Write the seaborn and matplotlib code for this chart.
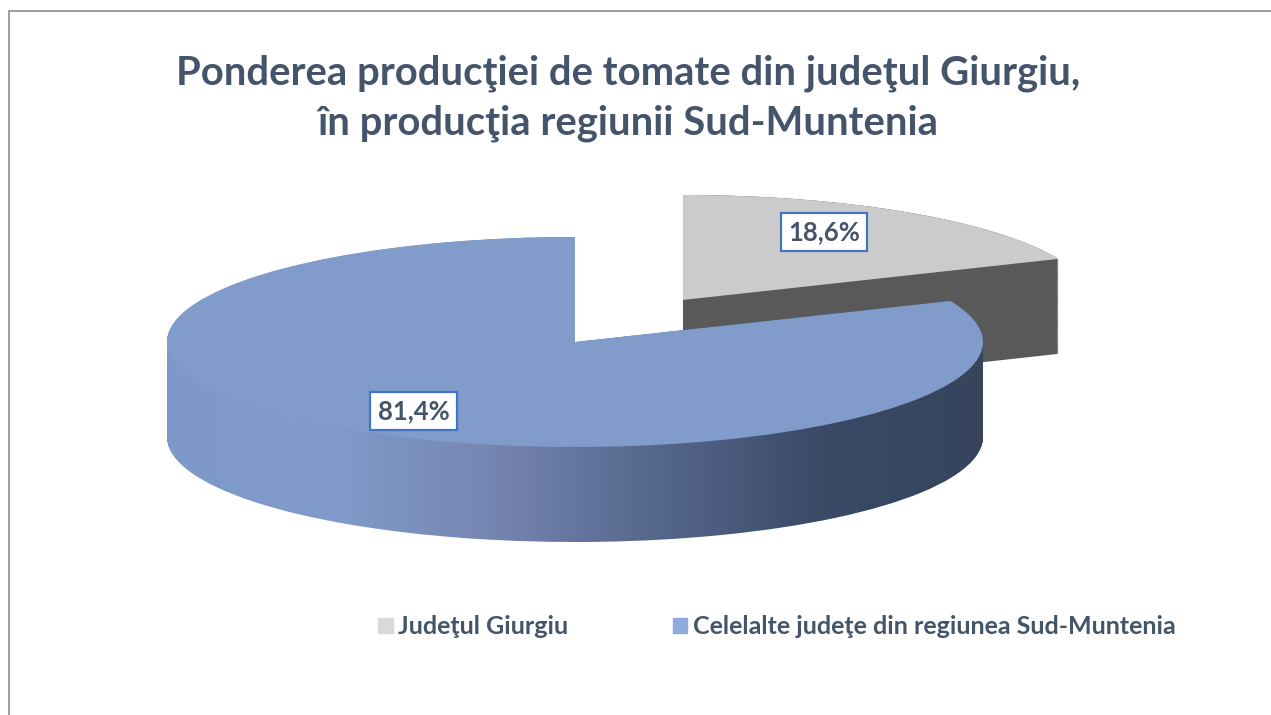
import numpy as np
import matplotlib.pyplot as plt
import seaborn as sns
from matplotlib.lines import Line2D
from matplotlib.patches import Patch, PathPatch
from matplotlib.path import Path

# values
categories = ['Judeţul Giurgiu', 'Celelalte judeţe din regiunea Sud-Muntenia']
shares = [18.6, 81.4]

title_text = 'Ponderea producţiei de tomate din judeţul Giurgiu,\nîn producţia regiunii Sud-Muntenia'

W, H = 1271, 715
CX, CY = 575, 342      # pie centre in pixels
RX, RY = 408, 105      # radius of the flattened pie
DEPTH = 95 / RY        # thickness in y units

TEXT = '#44546a'
GREY_TOP, GREY_SIDE = '#cbcbcb', '#595959'
BLUE_TOP = '#819ccb'
SIDE_STOPS = ['#7e99c9', '#819ccb', '#7585b0', '#56678d', '#3a4a67', '#36455c']


def extrude(wedge, n=100):
    # stack copies of the wedge outline downwards to get the solid side
    path = wedge.get_path()
    layers = [Path(path.vertices - [0, d], path.codes) for d in np.linspace(0, DEPTH, n)]
    return Path.make_compound_path(*layers)


sns.set_theme(style='white')
plt.rcParams['font.family'] = ['Lato', 'DejaVu Sans']

fig = plt.figure(figsize=(W / 100, H / 100), dpi=100, facecolor='white')
ax = fig.add_axes([0, 0, 1, 1])

# Excel order: big slice runs anti-clockwise from 12 o'clock
wedges, _ = ax.pie(shares[::-1], startangle=90, counterclock=True,
                   explode=[0, 0.48], colors=[BLUE_TOP, GREY_TOP],
                   wedgeprops=dict(edgecolor='none', linewidth=0))
big, small = wedges
ax.axis('off')

# grey slice sits behind the blue one
ax.add_patch(PathPatch(extrude(small), facecolor=GREY_SIDE, edgecolor='none', zorder=1))
small.set_zorder(2)

# blue side with the horizontal shading
shade = sns.blend_palette(SIDE_STOPS, n_colors=256)
img = ax.imshow(np.array(shade)[None, :, :], extent=(-1, 1, -1 - DEPTH, 1),
                aspect='auto', zorder=3)
img.set_clip_path(extrude(big), ax.transData)
big.set_zorder(4)

ax.set_aspect('auto')
ax.set_xlim(-CX / RX, (W - CX) / RX)
ax.set_ylim(-(H - CY) / RY, CY / RY)

# data labels
label_pos = [(824, 232), (413.5, 411)]
for share, (px, py) in zip(shares, label_pos):
    fig.text(px / W, 1 - py / H, f'{share:.1f}'.replace('.', ',') + '%',
             ha='center', va='center', fontsize=18.5, fontweight='bold', color=TEXT, zorder=6,
             bbox=dict(boxstyle='square,pad=0.29', facecolor='white', edgecolor='#4472c4', linewidth=1.6))

fig.text(628 / W, 1 - 98 / H, title_text, ha='center', va='center', fontsize=28.8,
         fontweight='bold', color=TEXT, linespacing=1.43)

handles = [Patch(color='#d9d9d9'), Patch(color='#8faadc')]
fig.legend(handles, categories, ncol=2, frameon=False, loc='center left',
           bbox_to_anchor=(378 / W, 1 - 627 / H), prop=dict(size=18, weight='bold'),
           labelcolor=TEXT, handlelength=0.58, handleheight=0.58, handletextpad=0.24,
           columnspacing=4.16, borderpad=0, borderaxespad=0)

# thin frame left over from the screenshot
frame = dict(color='#8c8c8c', linewidth=1.2, transform=fig.transFigure)
fig.add_artist(Line2D([8.5 / W, 8.5 / W], [0, 1 - 10.5 / H], **frame))
fig.add_artist(Line2D([8.5 / W, 1], [1 - 10.5 / H, 1 - 10.5 / H], **frame))

fig.savefig('out.png', dpi=100)
